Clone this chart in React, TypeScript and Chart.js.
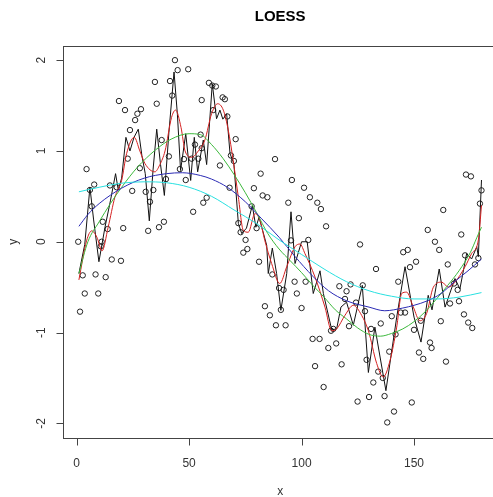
import React, { useEffect, useRef } from "react";
import { Chart, registerables } from "chart.js";

Chart.register(...registerables);

const titleText = "LOESS";
const xAxisLabel = "x";
const yAxisLabel = "y";
const xTicks = [0, 50, 100, 150];
const yTicks = [-2, -1, 0, 1, 2];

// scatter points [x, y]
const points: [number, number][] = [
  [43.7, 2.0], [44.9, 1.89], [49.6, 1.9], [34.8, 1.76], [41.5, 1.77], [55.6, 1.56], [18.8, 1.55],
  [21.5, 1.45], [35.6, 1.52], [28.6, 1.46], [27.0, 1.41], [26.0, 1.34], [42.5, 1.61], [23.7, 1.23],
  [37.8, 1.12], [55.1, 1.18], [52.6, 1.07], [55.6, 1.03], [22.7, 0.915], [41.0, 0.94], [47.7, 0.91],
  [51.1, 0.915], [54.1, 0.915], [4.4, 0.8], [28.1, 0.81], [45.9, 0.8], [48.5, 0.68], [39.7, 0.69],
  [7.8, 0.63], [5.9, 0.57], [14.8, 0.62], [17.8, 0.6], [24.7, 0.56], [30.7, 0.55], [34.1, 0.57],
  [32.6, 0.44], [56.3, 0.43], [51.8, 0.33], [6.7, 0.39], [11.6, 0.22], [13.8, 0.14], [20.7, 0.15],
  [31.8, 0.12], [36.6, 0.16], [38.8, 0.22], [0.7, 0.0], [11.1, 0.0],
  [10.7, -0.05], [15.6, -0.195], [19.7, -0.21], [2.7, -0.37], [8.4, -0.36], [12.9, -0.39],
  [3.6, -0.57], [9.6, -0.57], [1.5, -0.77],
  [58.8, 1.75], [60.3, 1.72], [61.9, 1.71], [64.9, 1.59], [65.9, 1.57], [60.7, 1.45], [67.0, 1.38],
  [70.7, 1.13], [63.7, 0.84], [68.6, 0.95], [69.9, 0.89], [88.2, 0.91], [81.8, 0.75], [68.0, 0.595],
  [78.8, 0.59], [95.7, 0.68], [101.1, 0.595], [82.7, 0.51], [84.8, 0.49], [103.7, 0.49], [107.0, 0.43],
  [108.6, 0.36], [94.1, 0.43], [77.8, 0.39], [98.8, 0.26], [110.9, 0.17], [57.8, 0.485], [71.9, 0.205],
  [72.9, 0.105], [75.1, 0.02], [80.0, 0.15], [95.3, 0.015], [103.0, 0.02],
  [75.9, -0.08], [74.1, -0.12], [81.1, -0.22], [87.0, -0.36], [90.0, -0.51], [92.0, -0.53],
  [96.9, -0.44], [101.8, -0.44], [97.9, -0.57], [83.7, -0.71], [90.8, -0.75], [100.0, -0.73],
  [85.9, -0.81], [88.6, -0.92], [92.9, -0.92], [116.8, -0.49], [113.1, -0.98], [114.1, -0.96],
  [104.9, -1.07], [108.0, -1.07], [111.9, -1.17], [115.4, -1.12], [106.0, -1.37], [117.8, -1.35],
  [109.8, -1.6],
  [126.0, -0.03], [159.3, 0.0], [145.2, -0.115], [147.2, -0.09], [161.2, -0.09], [133.1, -0.3],
  [150.9, -0.22], [148.2, -0.28], [165.0, -0.25], [172.7, -0.15], [178.6, -0.18], [177.1, -0.25],
  [143.0, -0.44], [121.8, -0.47], [120.0, -0.545], [127.2, -0.48], [119.3, -0.63], [124.2, -0.67],
  [128.2, -0.765], [121.1, -0.93], [130.9, -0.96], [135.2, -0.9], [144.1, -0.78], [146.0, -0.78],
  [140.1, -0.82], [153.0, -0.87], [150.0, -0.97], [141.8, -1.02], [167.8, -0.46], [169.4, -0.53],
  [166.0, -0.68], [170.0, -0.655], [161.9, -0.875], [172.2, -0.8], [174.1, -0.89], [175.9, -0.95],
  [157.1, -1.11], [157.8, -1.17], [152.2, -1.22], [154.1, -1.29], [164.2, -1.32], [139.0, -1.21],
  [128.9, -1.3], [134.1, -1.43], [131.9, -1.55], [136.1, -1.5], [130.0, -1.71], [124.9, -1.76],
  [136.9, -1.7], [149.0, -1.77], [141.1, -1.87], [138.1, -1.99],
  [173.1, 0.74], [175.3, 0.72], [180.0, 0.566], [179.3, 0.42], [163.0, 0.35], [156.1, 0.13], [171.0, 0.08],
];

// smallest span fit (black)
const blackCurve: [number, number][] = [
  [1, -0.35], [3.6, -0.03], [5.9, 0.6], [7.5, 0.25], [9.9, -0.22], [12.6, 0.16], [15, 0.45],
  [17.3, 0.75], [18.5, 0.57], [20, 0.7], [21.9, 1.15], [23.7, 1.0], [25.5, 1.15], [27.4, 1.24],
  [29, 0.95], [30.5, 0.75], [32.3, 0.23], [34, 0.8], [35.6, 1.24], [37.3, 0.85], [39, 0.51],
  [41, 1.2], [43.3, 1.87], [44.8, 1.4], [46.2, 0.785], [48.5, 1.19], [50.7, 0.675], [52.3, 1.15],
  [53.8, 0.77], [56.3, 1.12], [57.8, 0.85], [60.3, 1.74], [62.2, 1.355], [63.7, 1.45], [65, 1.35],
  [66.7, 1.41], [68.2, 0.97], [69.9, 0.86], [71.9, 0.2], [73.4, 0.09], [75.5, 0.15], [78.1, 0.4],
  [79.7, 0.16], [81.1, 0.27], [84.5, -0.04], [85.2, -0.35], [87, -0.07], [88.9, -0.35],
  [90.8, -0.755], [93.4, -0.35], [95.3, 0.33], [97.1, -0.24], [100, 0.0], [102.5, 0.0],
  [105.2, -0.57], [108.2, -0.32], [109.7, -0.57], [113.4, -0.97], [115.6, -0.96], [117.5, -0.72],
  [120, -0.665], [123, -0.92], [127, -0.48], [129.7, -1.44], [132.6, -0.94], [137.5, -1.64],
  [142.3, -0.83], [146, -0.275], [150, -0.83], [153.1, -1.105], [156.3, -0.59], [158, -0.75],
  [161.2, -0.3], [163.8, -0.72], [168.2, -0.405], [170.4, -0.52], [173.4, -0.13], [175.6, -0.19],
  [177.9, -0.055], [178.6, -0.165], [180, 0.68],
];

// small span fit (red)
const redCurve: [number, number][] = [
  [1, -0.42], [4.4, 0.01], [6.7, 0.12], [9, 0.05], [11.3, -0.1], [14, 0.16], [17, 0.49], [20, 0.675],
  [22.2, 0.97], [25.6, 1.15], [28.1, 1.0], [30.4, 0.86], [34.8, 0.77], [37, 0.85], [39.3, 1.0],
  [42.2, 1.37], [44, 1.45], [46.4, 1.26], [48.2, 1.0], [51.1, 0.93], [54.1, 1.0], [57, 1.12],
  [60, 1.41], [62.7, 1.52], [65.2, 1.45], [67.4, 1.23], [69.6, 0.895], [71.9, 0.49], [74.1, 0.125],
  [76.3, 0.105], [79.3, 0.31], [81.5, 0.235], [83.7, 0.01], [86.7, -0.24], [90.3, -0.46],
  [93.4, -0.275], [97.1, -0.055], [99.3, -0.025], [101.5, -0.13], [106, -0.39], [110.4, -0.72],
  [113.4, -0.98], [115.6, -0.96], [119.3, -0.81], [123, -0.7], [126.7, -0.81], [129.7, -0.98],
  [133.4, -1.34], [136.3, -1.49], [139.3, -1.31], [142.3, -0.94], [144.5, -0.57], [146.7, -0.555],
  [149.7, -0.72], [152.6, -0.87], [155.6, -0.79], [158.6, -0.5], [162.3, -0.445], [165.3, -0.5],
  [168.2, -0.445], [172.7, -0.275], [175.6, -0.13], [178.6, 0.02], [180, 0.4],
];

// medium span fit (green)
const greenCurve: [number, number][] = [
  [1, -0.35], [5, 0.0], [10, 0.22], [15, 0.42], [20, 0.6], [27, 0.82], [35, 1.01], [42, 1.13],
  [50, 1.19], [55, 1.18], [60, 1.07], [65, 0.92], [70, 0.74], [75, 0.54], [80, 0.32], [85, 0.09],
  [90, -0.08], [95, -0.21], [100, -0.34], [105, -0.48], [110, -0.61], [115, -0.75], [120, -0.85],
  [125, -0.95], [130, -1.02], [135, -1.04], [140, -1.01], [145, -0.96], [150, -0.88], [155, -0.77],
  [160, -0.63], [165, -0.48], [170, -0.32], [175, -0.12], [178, 0.05], [180, 0.16],
];

// large span fit (blue)
const blueCurve: [number, number][] = [
  [1, 0.17], [5, 0.3], [10, 0.42], [20, 0.59], [30, 0.7], [40, 0.75], [47, 0.76], [55, 0.73],
  [60, 0.69], [67, 0.6], [75, 0.44], [82, 0.26], [90, 0.05], [97, -0.16], [105, -0.38],
  [112, -0.54], [120, -0.65], [130, -0.72], [137, -0.76], [145, -0.73], [150, -0.7], [156, -0.65],
  [162, -0.57], [168, -0.44], [174, -0.32], [180, -0.19],
];

// largest span fit (cyan)
const cyanCurve: [number, number][] = [
  [1, 0.55], [10, 0.6], [20, 0.645], [30, 0.66], [40, 0.65], [50, 0.6], [60, 0.5], [70, 0.35],
  [80, 0.2], [90, 0.02], [100, -0.14], [110, -0.3], [120, -0.44], [130, -0.54], [140, -0.6],
  [150, -0.63], [160, -0.63], [170, -0.61], [180, -0.56],
];

const toXY = (arr: [number, number][]) => arr.map(([x, y]) => ({ x, y }));

const FONT = '"Liberation Sans", Arial, Helvetica, sans-serif';

const rAxesPlugin = {
  id: "rAxes",
  afterDraw(chart: any) {
    const { ctx, chartArea: a, scales } = chart;
    const xs = scales.x;
    const ys = scales.y;
    ctx.save();
    ctx.strokeStyle = "#444";
    ctx.lineWidth = 1;
    const L = Math.round(a.left) + 0.5;
    const T = Math.round(a.top) + 0.5;
    const R = Math.round(a.right) + 0.5;
    const B = Math.round(a.bottom) + 0.5;
    ctx.strokeRect(L, T, R - L, B - T);
    ctx.beginPath();
    xTicks.forEach((v) => {
      const px = Math.round(xs.getPixelForValue(v)) + 0.5;
      ctx.moveTo(px, B);
      ctx.lineTo(px, B + 7);
    });
    yTicks.forEach((v) => {
      const py = Math.round(ys.getPixelForValue(v)) + 0.5;
      ctx.moveTo(L, py);
      ctx.lineTo(L - 7, py);
    });
    ctx.stroke();

    ctx.fillStyle = "#333";
    ctx.font = `12px ${FONT}`;
    ctx.textAlign = "center";
    ctx.textBaseline = "alphabetic";
    xTicks.forEach((v) => {
      ctx.fillText(String(v), xs.getPixelForValue(v), B + 28.5);
    });
    yTicks.forEach((v) => {
      ctx.save();
      ctx.translate(45, ys.getPixelForValue(v));
      ctx.rotate(-Math.PI / 2);
      ctx.fillText(String(v), 0, 0);
      ctx.restore();
    });
    const cx = (a.left + a.right) / 2;
    const cy = (a.top + a.bottom) / 2;
    ctx.fillText(xAxisLabel, cx, 495);
    ctx.save();
    ctx.translate(16.5, cy);
    ctx.rotate(-Math.PI / 2);
    ctx.fillText(yAxisLabel, 0, 0);
    ctx.restore();

    ctx.fillStyle = "#000";
    ctx.font = `bold 15px ${FONT}`;
    ctx.fillText(titleText, cx, 21);
    ctx.restore();
  },
};

const lineDs = (label: string, data: [number, number][], color: string, order: number, smooth: boolean) => ({
  label,
  data: toXY(data),
  showLine: true,
  borderColor: color,
  backgroundColor: color,
  borderWidth: 1,
  pointRadius: 0,
  pointHoverRadius: 0,
  fill: false,
  tension: 0,
  cubicInterpolationMode: smooth ? "monotone" : "default",
  order,
});

export default function App() {
  const ref = useRef<HTMLCanvasElement>(null);
  useEffect(() => {
    const canvas = ref.current;
    if (!canvas) return;
    const chart = new Chart(canvas, {
      type: "scatter",
      data: {
        datasets: [
          {
            label: "data",
            data: toXY(points),
            showLine: false,
            pointStyle: "circle",
            pointRadius: 2.7,
            pointBorderWidth: 1,
            pointBorderColor: "#222",
            pointBackgroundColor: "rgba(0,0,0,0)",
            order: 10,
          } as any,
          lineDs("black", blackCurve, "#111111", 5, false) as any,
          lineDs("red", redCurve, "#d42020", 4, true) as any,
          lineDs("green", greenCurve, "#3cb83c", 3, true) as any,
          lineDs("blue", blueCurve, "#2a2ab4", 2, true) as any,
          lineDs("cyan", cyanCurve, "#28e0e0", 1, true) as any,
        ],
      },
      options: {
        animation: false,
        responsive: false,
        devicePixelRatio: 1,
        events: [],
        layout: { padding: { left: 62.8, top: 45.9, right: 12.4, bottom: 59.4 } },
        scales: {
          x: { type: "linear", min: -6.16, max: 187.16, display: false },
          y: { type: "linear", min: -2.157, max: 2.157, display: false },
        },
        plugins: {
          legend: { display: false },
          tooltip: { enabled: false },
          title: { display: false },
        },
      },
      plugins: [rAxesPlugin],
    });
    return () => chart.destroy();
  }, []);

  return (
    <div
      style={{
        position: "fixed",
        left: 0,
        top: 0,
        width: 493,
        height: 497,
        overflow: "hidden",
        background: "#fff",
      }}
    >
      <canvas ref={ref} width={510} height={497} style={{ display: "block", width: 510, height: 497 }} />
    </div>
  );
}
